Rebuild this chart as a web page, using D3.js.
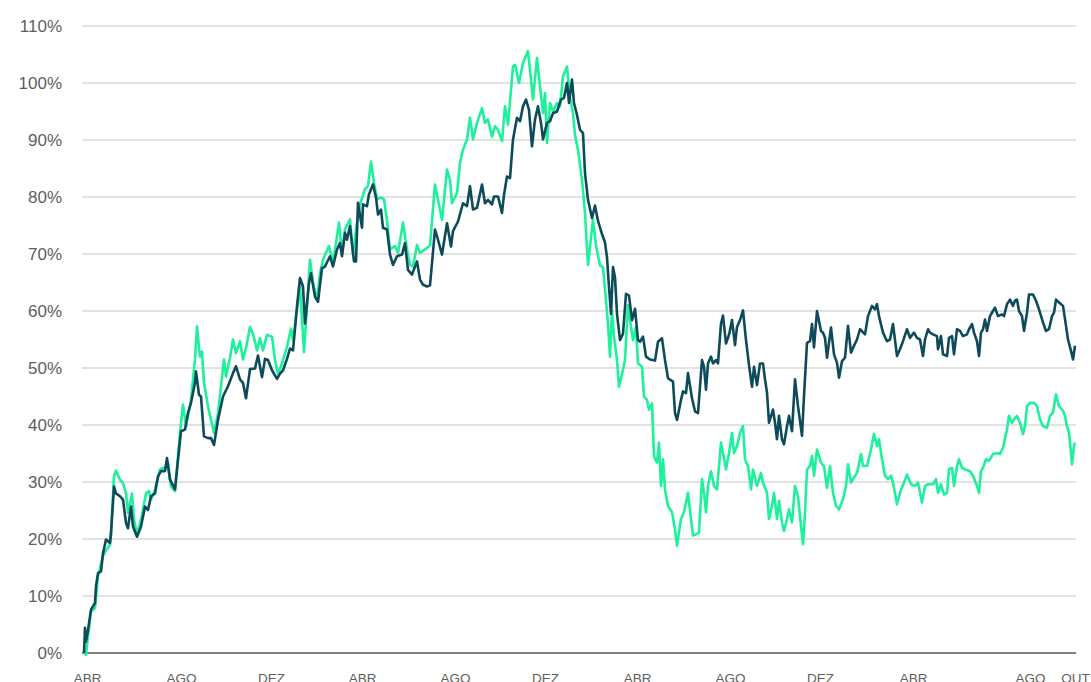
<!DOCTYPE html>
<html lang="pt">
<head>
<meta charset="utf-8">
<script src="https://cdn.jsdelivr.net/npm/d3@7"></script>
<style>
  html, body { margin: 0; padding: 0; background: #ffffff; }
  svg { display: block; }
</style>
</head>
<body>
<svg id="grafico" width="1091" height="682"></svg>
<script>
// Rentabilidade acumulada (%) de duas séries, indexadas pelo período t (0 a 991)
const serieAzul = [[0,0],[1,4.4],[2,2],[4,4],[7,7.6],[11,8.8],[12,11.7],[14,14],[17,14.3],[19,17.5],[22,19.9],[26,19.3],[27,21],[30,29.2],[32,28],[36,27.5],[39,26.9],[42,22.8],[44,21.9],[47,25.7],[49,22.2],[53,20.4],[57,22.2],[61,25.7],[64,25.1],[67,27.5],[71,28],[74,31],[77,31.9],[81,31.9],[83,34.2],[86,30.4],[91,28.7],[94,33.9],[97,38.9],[101,39.2],[104,42.1],[107,43.9],[111,47.4],[112,49.4],[115,45.3],[117,45],[120,38],[124,37.7],[127,37.7],[130,36.5],[134,40.9],[139,45],[144,46.8],[149,49.1],[152,50.3],[156,48],[159,47.4],[162,44.7],[166,49.8],[171,49.9],[174,52.2],[178,48.4],[181,51.6],[184,51.4],[188,49.6],[193,48.1],[196,49],[199,49.6],[203,51.6],[206,53.4],[209,53.1],[213,60.8],[216,65.8],[219,64.3],[221,57.8],[225,64.9],[227,66.6],[231,62.5],[234,61.6],[238,67.5],[241,67.8],[246,69.6],[249,67.8],[253,70.8],[256,71.9],[258,69.6],[261,73.7],[263,72.5],[266,74.9],[270,68.7],[272,68.7],[274,79],[278,74.6],[279,78.7],[283,78.4],[285,80.5],[289,82.2],[292,79.9],[294,76.9],[297,77.8],[299,74.6],[303,74.3],[306,69.9],[309,68.1],[313,69.6],[318,69.9],[321,71.9],[324,67.2],[328,66.4],[333,68.7],[336,65.5],[339,64.6],[343,64.3],[346,64.5],[351,74.3],[354,72.5],[358,69.9],[363,75.4],[367,71.3],[369,74],[374,75.7],[379,78.9],[383,78.4],[386,81.9],[389,77.8],[393,78.1],[398,82.2],[401,78.9],[404,79.5],[408,78.7],[410,80.1],[414,80.1],[418,77.2],[420,80.4],[423,83.6],[426,83.3],[429,90.1],[433,93.9],[436,93.3],[439,95.9],[442,97.1],[445,95.3],[448,88.9],[451,93.6],[454,95.9],[457,93],[459,90.1],[463,93],[466,93.3],[469,94.7],[473,95],[477,97.1],[480,97.4],[483,100],[485,96.5],[488,100.6],[490,96.5],[493,94.4],[496,91.8],[499,91.2],[501,84.2],[504,79.5],[508,76.3],[511,78.5],[514,75.8],[518,73.5],[521,72],[523,69.4],[525,64.2],[527,59.5],[529,67.7],[531,65.9],[533,59.5],[536,54.9],[539,56],[542,63],[545,62.7],[548,58.4],[551,60.4],[554,54.9],[556,54.6],[559,55.5],[562,52],[566,51.5],[571,51.3],[574,54.6],[578,55.2],[581,51.4],[584,48.2],[589,47.6],[591,42.1],[593,40.9],[597,44.4],[599,45.9],[602,45.6],[604,49.1],[608,44.7],[611,42.4],[614,42.1],[618,51.4],[620,50.2],[622,46.2],[624,50.8],[627,52],[629,50.8],[632,51.4],[634,50.8],[637,57.8],[639,59.2],[642,54.3],[645,55.8],[648,58.4],[651,54],[653,57.2],[656,58.4],[659,60.1],[662,54.9],[665,50.5],[668,46.7],[670,50.2],[673,47],[676,50.8],[679,50.8],[681,48],[683,45.7],[685,40.4],[689,42.7],[691,40.4],[693,37.5],[695,41.6],[698,37.5],[700,36.6],[703,39.8],[705,41.6],[708,38.9],[711,48],[714,43.3],[718,38.1],[720,45.1],[723,54.4],[726,54.7],[728,57.7],[730,53.6],[733,60],[737,56.5],[739,56.2],[741,55.3],[743,51.8],[747,57.1],[750,52.4],[753,50.9],[755,48.3],[758,51.2],[761,51.8],[764,57.4],[767,52.7],[770,53.9],[773,55],[776,56.8],[781,55.9],[784,59.1],[788,60.9],[791,60.3],[793,61.2],[795,59.1],[799,56.2],[803,54.7],[806,55],[809,57.7],[813,52.1],[816,53.3],[819,54.7],[823,56.8],[826,55.3],[830,56.2],[833,55.3],[836,55],[839,52.1],[841,55],[844,56.8],[846,56.2],[849,55.9],[853,55.6],[854,53.3],[857,55.6],[859,52.4],[863,52.1],[865,55.3],[868,55.6],[870,52.4],[873,56.8],[876,56.5],[879,55.6],[883,55.9],[885,56.8],[888,57.7],[890,56.2],[893,54.7],[895,52.1],[897,56.2],[899,56.8],[901,58.5],[903,56.5],[906,59.1],[909,60],[911,60.6],[914,59.1],[918,59.4],[920,59.1],[923,61.2],[926,62],[929,60.9],[931,61.8],[933,62],[935,60],[938,59.1],[940,56.5],[943,59.7],[945,62.9],[949,62.9],[952,61.8],[955,60.3],[959,58],[962,56.5],[965,56.8],[968,59.1],[970,59.7],[972,62],[975,61.5],[979,60.9],[982,57.4],[984,55],[987,53],[989,51.5],[991,53.9]];

const serieVerde = [[0,0],[2,-0.3],[4,2.9],[7,7.3],[11,7.9],[14,13.5],[19,17],[22,18],[26,19],[27,21],[30,31],[32,32],[36,30.4],[39,29.8],[42,28],[44,24.6],[48,28],[50,23.4],[53,20.8],[57,23.4],[62,28],[65,28.4],[67,26.9],[71,28.7],[76,32.2],[82,32.7],[84,33.3],[87,29.2],[91,28.4],[96,38.6],[99,43.6],[102,39.8],[107,44.4],[111,51.5],[113,57.3],[116,52],[118,52.9],[120,47.4],[124,43.3],[127,40.9],[130,38.6],[134,42.1],[140,51.5],[142,48.5],[146,51.8],[149,55],[152,52.6],[156,54.7],[159,51.5],[162,53.5],[166,57.2],[169,56],[173,53.1],[176,55.2],[179,53.1],[183,55.8],[188,55.5],[191,51.4],[194,49],[198,50.8],[203,53.7],[207,56.9],[209,54.9],[213,60.2],[216,64.3],[220,52.8],[223,60.8],[226,69],[229,64.9],[233,61.9],[236,66.6],[239,69],[245,71.4],[249,68.4],[255,75.5],[258,70.2],[261,74.3],[266,76.1],[269,69.9],[273,75.5],[276,78.7],[281,81.4],[284,81.9],[287,86.2],[290,82.5],[293,79.6],[297,79.9],[300,79.6],[303,75.8],[306,70.8],[311,71.4],[314,70.2],[319,75.5],[323,70.8],[326,68.1],[329,67.8],[333,71.6],[336,70.2],[341,70.8],[346,71.5],[351,82.2],[354,79.5],[358,76],[363,84.8],[366,83],[368,78.9],[373,80.7],[376,86],[379,88.3],[383,90.1],[386,93.9],[389,90.1],[393,93],[398,95.6],[401,93],[404,93.6],[408,90.6],[411,92.4],[414,91.8],[418,89.8],[421,95.9],[424,92.7],[429,102.9],[431,103.2],[435,100],[439,103.5],[444,105.6],[447,100.6],[449,97.1],[453,104.4],[456,99.4],[459,94.7],[461,98.2],[463,89.5],[466,96.5],[469,95],[473,96.5],[476,95.9],[479,101.2],[481,102],[483,102.9],[486,97.4],[489,94.7],[491,90.9],[494,88.3],[498,83],[501,77.2],[504,68.1],[509,76],[512,71.5],[516,68],[519,67.7],[522,61.9],[524,57.8],[526,52],[528,60.1],[530,55.5],[533,51.4],[535,46.7],[539,49.7],[541,51.4],[544,61],[547,57.2],[549,54.9],[552,57.2],[554,50.8],[558,50.2],[560,45],[563,44.4],[565,42.7],[568,43.8],[570,34.5],[573,33.4],[575,36.9],[577,29.3],[579,34],[581,28.7],[584,25.8],[588,24.7],[591,21.7],[593,18.8],[597,23.5],[600,24.7],[604,28.1],[607,23.5],[609,20.6],[613,20.9],[615,21.2],[618,30.5],[620,28.1],[622,24.7],[624,29.3],[627,31.9],[630,29.3],[633,28.7],[637,36.9],[639,35.1],[642,32.2],[645,35.1],[648,38.6],[650,35.1],[653,36.3],[656,38.6],[659,39.8],[661,34],[664,32.8],[667,28.7],[669,32.2],[673,29.3],[677,31.6],[679,29.9],[683,28.1],[685,23.5],[688,25.8],[690,28.1],[693,23.5],[695,26.7],[698,22.9],[700,21.4],[703,23.5],[705,25.2],[708,22.9],[711,29.3],[714,27.5],[717,22.3],[719,19.1],[721,24.6],[723,32.2],[726,32.8],[728,34.6],[730,31.1],[733,35.7],[737,33.4],[740,32.8],[743,29],[746,32.8],[749,28.1],[752,25.8],[755,25.2],[759,27],[762,29.3],[764,33.1],[767,29.9],[770,30.8],[773,31.6],[777,34.9],[779,32.8],[783,32.8],[787,35.7],[790,38.4],[793,36.3],[795,37.5],[798,34],[801,31.1],[804,30.5],[807,31.1],[809,29.9],[813,26.1],[816,28.1],[820,29.9],[823,31.3],[827,29.6],[831,29.3],[834,29.9],[838,26.4],[841,29.3],[844,29.6],[849,29.6],[852,30.5],[854,28.1],[857,29.6],[860,27.8],[863,28.1],[865,32.2],[868,32.5],[870,29.3],[873,32.8],[875,34],[878,32.5],[881,32.2],[886,31.9],[889,31.1],[893,29.3],[895,28.1],[897,31.9],[899,32.5],[902,34],[905,33.7],[909,34.9],[913,35.1],[916,34.9],[919,36],[923,39.2],[925,41.6],[928,40.4],[930,41],[933,41.6],[936,40.4],[939,38.4],[941,39.8],[943,43.3],[946,43.9],[950,43.9],[953,43.3],[956,41],[959,39.8],[963,39.5],[966,41.6],[969,42.2],[972,45.4],[975,43.3],[979,42.5],[981,41.6],[983,39.8],[985,38.7],[987,35.1],[988,33.1],[990,36.3],[991,36.9]];

// Rótulos do eixo dos meses e a posição t de cada um
const rotulosMeses = ["ABR", "AGO", "DEZ", "ABR", "AGO", "DEZ", "ABR", "AGO", "DEZ", "ABR", "AGO", "OUT"];
const posicoesMeses = [3, 97, 187, 278, 371, 461, 553, 646, 736, 829, 946, 991];

// Marcas do eixo percentual
const ticksPercentuais = [0, 10, 20, 30, 40, 50, 60, 70, 80, 90, 100, 110];

const svg = d3.select("#grafico");
const fonte = "'Liberation Sans', Arial, sans-serif";

const x = d3.scaleLinear().domain([0, 991]).range([84, 1075]);
const y = d3.scaleLinear().domain([0, 110]).range([653, 26]);

// Linhas de grade horizontais
svg.append("g")
  .selectAll("line")
  .data(ticksPercentuais.filter(d => d > 0))
  .join("line")
  .attr("x1", 82).attr("x2", 1076)
  .attr("y1", d => y(d)).attr("y2", d => y(d))
  .attr("stroke", "#d9d9d9")
  .attr("stroke-width", 1.3);

// Rótulos do eixo vertical
const eixoY = d3.axisLeft(y)
  .tickValues(ticksPercentuais)
  .tickFormat(d => d + "%")
  .tickSize(0)
  .tickPadding(0);
const gY = svg.append("g").attr("transform", "translate(62,0)").call(eixoY);
gY.select(".domain").remove();
gY.selectAll("text")
  .attr("fill", "#5e5e5e")
  .style("font-family", fonte)
  .style("font-size", "17px");

// Linha de base em 0%
svg.append("line")
  .attr("x1", 82).attr("x2", 1076)
  .attr("y1", y(0)).attr("y2", y(0))
  .attr("stroke", "#7f7f7f")
  .attr("stroke-width", 2);

// Eixo horizontal com os meses
const eixoX = d3.axisBottom(x)
  .tickValues(posicoesMeses)
  .tickFormat((d, i) => rotulosMeses[i])
  .tickSize(0)
  .tickPadding(0);
const gX = svg.append("g").attr("transform", "translate(0,673)").call(eixoX);
gX.select(".domain").remove();
gX.selectAll("text")
  .attr("dy", "0.71em")
  .attr("fill", "#5e5e5e")
  .style("font-family", fonte)
  .style("font-size", "13.5px");

// Séries
const linha = d3.line()
  .x(d => x(d[0]))
  .y(d => y(d[1]));

svg.append("path")
  .datum(serieVerde)
  .attr("fill", "none")
  .attr("stroke", "#1ef09b")
  .attr("stroke-width", 2.6)
  .attr("stroke-linejoin", "round")
  .attr("d", linha);

svg.append("path")
  .datum(serieAzul)
  .attr("fill", "none")
  .attr("stroke", "#0d4b5b")
  .attr("stroke-width", 2.6)
  .attr("stroke-linejoin", "round")
  .attr("d", linha);
</script>
</body>
</html>
